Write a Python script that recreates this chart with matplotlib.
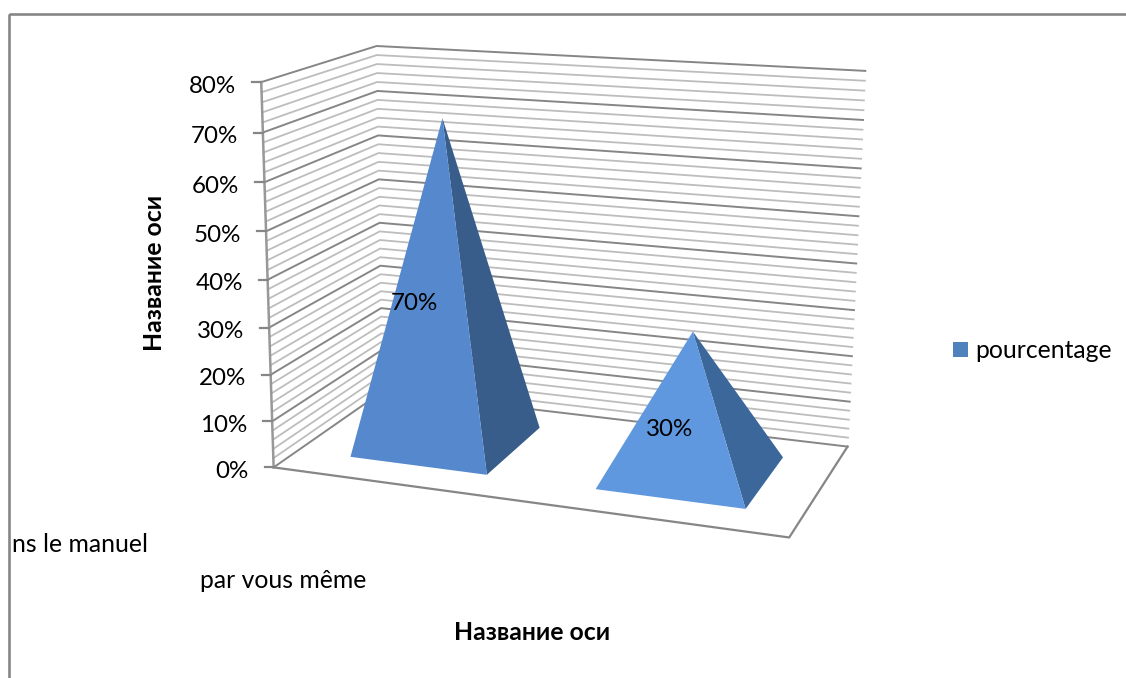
import numpy as np
import matplotlib
matplotlib.use("Agg")
import matplotlib.pyplot as plt
from matplotlib.patches import Polygon, Rectangle

# data
categories = ["ns le manuel", "par vous même"]
series_name = "pourcentage"
values = [70, 30]
value_labels = ["70%", "30%"]
tick_values = [0, 10, 20, 30, 40, 50, 60, 70, 80]
tick_labels = ["0%", "10%", "20%", "30%", "40%", "50%", "60%", "70%", "80%"]
minor_values = [v for v in range(0, 81, 2) if v % 10 != 0]
axis_title = "Название оси"

# colours
major_col = "#868686"
minor_col = "#BDBDBD"
front_cols = ["#5588CC", "#6098DF"]
side_cols = ["#385D8A", "#3C679B"]
legend_col = "#4F81BD"

plt.rcParams["font.family"] = ["Lato", "Open Sans", "DejaVu Sans"]

# 3d box corners on the picture, (x, depth, value) -> pixel
box = [((0, 0, 0), (275, 467)), ((1, 0, 0), (789, 538)), ((0, 1, 0), (381, 392)),
       ((1, 1, 0), (848, 446)), ((0, 0, 1), (260, 82)), ((0, 1, 1), (378, 46)),
       ((1, 1, 1), (865, 71))]

# fit the perspective matrix
A = []
for (x, d, v), (px, py) in box:
    A.append([x, d, v, 1, 0, 0, 0, 0, -px*x, -px*d, -px*v, -px])
    A.append([0, 0, 0, 0, x, d, v, 1, -py*x, -py*d, -py*v, -py])
P = np.linalg.svd(np.array(A, dtype=float))[2][-1].reshape(3, 4)


def proj(x, d, pct):
    p = P @ np.array([x, d, pct/80.0, 1.0])
    return p[0]/p[2], p[1]/p[2]


fig = plt.figure(figsize=(11.26, 6.78), dpi=100)
ax = fig.add_axes([0, 0, 1, 1])
ax.set_xlim(0, 1126)
ax.set_ylim(678, 0)
ax.axis("off")

# outer frame, cut by the picture on the right and bottom
ax.add_patch(Rectangle((9, 14), 1300, 900, fill=False, ec=major_col, lw=1.9))

# minor grid on the walls
for v in minor_values:
    pts = [proj(0, 0, v), proj(0, 1, v), proj(1, 1, v)]
    ax.plot(*zip(*pts), color=minor_col, lw=1.3, zorder=1)
# major grid
for v in tick_values:
    pts = [proj(0, 0, v), proj(0, 1, v), proj(1, 1, v)]
    ax.plot(*zip(*pts), color=major_col, lw=1.4, zorder=2)

# floor edges
ax.plot(*zip(proj(0, 0, 0), proj(1, 0, 0), proj(1, 1, 0)), color=major_col, lw=1.6, zorder=2)

# value axis with ticks
ax.plot(*zip(proj(0, 0, 0), proj(0, 0, 80)), color="#989898", lw=1.8, zorder=3)
for v, lab in zip(tick_values, tick_labels):
    x, y = proj(0, 0, v)
    ax.plot([x-9, x], [y, y], color=major_col, lw=1.6, zorder=3)
    ax.text(x-25, y+4, lab, ha="right", va="center", fontsize=17.4, color="black")

# pyramids
half_w = 0.142
half_d = 0.29
base_shift = 0.004
for i, val in enumerate(values):
    cx = (i+0.5)/len(values)
    fl = proj(cx+base_shift-half_w, 0.5-half_d, 0)
    fr = proj(cx+base_shift+half_w, 0.5-half_d, 0)
    br = proj(cx+base_shift+half_w, 0.5+half_d, 0)
    top = proj(cx, 0.5, val)
    ax.add_patch(Polygon([fr, br, top], closed=True, fc=side_cols[i], ec="none", zorder=5))
    ax.add_patch(Polygon([fl, fr, top], closed=True, fc=front_cols[i], ec="none", zorder=6))

# data labels
ax.text(414, 304, value_labels[0], ha="center", va="center", fontsize=17.4, zorder=7)
ax.text(670, 429, value_labels[1], ha="center", va="center", fontsize=17.4, zorder=7)

# category labels
ax.text(12, 545, categories[0], ha="left", va="center", fontsize=17.8)
ax.text(200, 581, categories[1], ha="left", va="center", fontsize=17.8)

# axis titles
ax.text(154, 273, axis_title, rotation=90, ha="center", va="center", fontsize=17.8, fontweight="bold")
ax.text(532, 633, axis_title, ha="center", va="center", fontsize=17.8, fontweight="bold")

# legend
ax.add_patch(Rectangle((953, 342), 15, 15, fc=legend_col, ec="none"))
ax.text(975, 351, series_name, ha="left", va="center", fontsize=17.8)

fig.savefig("out.png", dpi=100)
